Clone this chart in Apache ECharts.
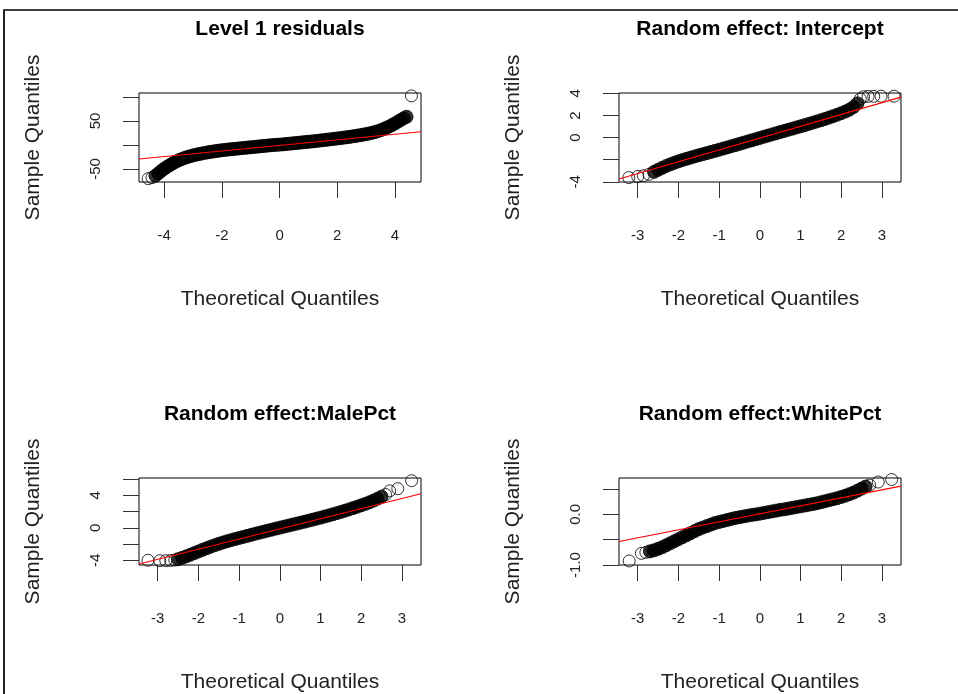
<!DOCTYPE html>
<html><head><meta charset="utf-8">
<script src="https://cdn.jsdelivr.net/npm/echarts@6/dist/echarts.min.js"></script>
<style>html,body{margin:0;padding:0;background:#fff}#c{width:958px;height:694px}</style>
</head><body><div id="c"></div>
<script>
// ---------- titles & axis ticks ----------
const titles = ['Level 1 residuals', 'Random effect: Intercept', 'Random effect:MalePct', 'Random effect:WhitePct'];
const xTitle = 'Theoretical Quantiles';
const yTitle = 'Sample Quantiles';
const xTicks1 = [-4, -2, 0, 2, 4];
const xTicks = [-3, -2, -1, 0, 1, 2, 3];
const yTicks1 = [-50, 0, 50, 100];   const yLabels1 = [-50, 50];
const yTicks2 = [-4, -2, 0, 2, 4];   const yLabels2 = [-4, 0, 2, 4];
const yTicks3 = [-4, -2, 0, 2, 4, 6]; const yLabels3 = [-4, 0, 4];
const yTicks4 = [-1.0, -0.5, 0.0, 0.5]; const yLabels4 = [-1.0, 0.0];
const xRange1 = [-4.87, 4.9];  const yRange1 = [-77, 108];
const xRange2 = [-3.46, 3.47]; const yRange2 = [-4.02, 4.04];
const xRange3 = [-3.46, 3.47]; const yRange3 = [-4.56, 6.13];
const xRange4 = [-3.46, 3.47]; const yRange4 = [-1.0, 0.72];

// ---------- QQ points: [theoretical, sample] ----------
const p1Body = [[-4.3,-64],[-4.2,-59],[-4.1,-54],[-4.0,-49.5],[-3.9,-45.5],[-3.8,-41.8],[-3.7,-38.2],[-3.6,-35],[-3.5,-32],[-3.4,-29.5],
 [-3.3,-27.2],[-3.2,-25.2],[-3.1,-23.4],[-3.0,-21.8],[-2.9,-20.3],[-2.8,-19],[-2.7,-17.8],[-2.6,-16.6],[-2.5,-15.5],[-2.4,-14.5],
 [-2.3,-13.6],[-2.2,-12.7],[-2.1,-11.8],[-2.0,-11.0],[-1.9,-10.3],[-1.8,-9.7],[-1.7,-9.0],[-1.6,-8.4],[-1.5,-7.8],[-1.4,-7.2],
 [-1.3,-6.6],[-1.2,-6.0],[-1.1,-5.4],[-1.0,-4.8],[-0.9,-4.2],[-0.8,-3.6],[-0.7,-3.0],[-0.6,-2.4],[-0.5,-1.8],[-0.4,-1.2],
 [-0.3,-0.6],[-0.2,-0.1],[-0.1,0.3],[0.0,0.7],[0.1,1.2],[0.2,1.8],[0.3,2.4],[0.4,3.0],[0.5,3.6],[0.6,4.2],
 [0.7,4.8],[0.8,5.4],[0.9,6.0],[1.0,6.6],[1.1,7.2],[1.2,7.8],[1.3,8.5],[1.4,9.2],[1.5,9.9],[1.6,10.6],
 [1.7,11.3],[1.8,12.0],[1.9,12.8],[2.0,13.5],[2.1,14.2],[2.2,15.0],[2.3,15.8],[2.4,16.6],[2.5,17.5],[2.6,18.4],
 [2.7,19.4],[2.8,20.4],[2.9,21.5],[3.0,22.6],[3.1,23.8],[3.2,25.2],[3.3,26.8],[3.4,28.6],[3.5,30.6],[3.6,33],
 [3.7,35.6],[3.8,38.4],[3.9,41.5],[4.0,44.8],[4.1,48.4],[4.2,52],[4.3,55.5],[4.4,58.5]];
const p1Tail = [[-4.55,-70],[-4.42,-68],[4.57,102]];

const p2Body = [[-2.6,-3.1],[-2.5,-2.92],[-2.4,-2.74],[-2.3,-2.57],[-2.2,-2.42],[-2.1,-2.28],[-2.0,-2.15],[-1.9,-2.03],[-1.8,-1.92],[-1.7,-1.81],
 [-1.6,-1.7],[-1.5,-1.6],[-1.4,-1.5],[-1.3,-1.4],[-1.2,-1.3],[-1.1,-1.2],[-1.0,-1.1],[-0.9,-0.99],[-0.8,-0.89],[-0.7,-0.78],
 [-0.6,-0.68],[-0.5,-0.57],[-0.4,-0.46],[-0.3,-0.35],[-0.2,-0.25],[-0.1,-0.14],[0.0,-0.03],[0.1,0.08],[0.2,0.18],[0.3,0.29],
 [0.4,0.39],[0.5,0.5],[0.6,0.6],[0.7,0.71],[0.8,0.81],[0.9,0.92],[1.0,1.02],[1.1,1.13],[1.2,1.24],[1.3,1.35],
 [1.4,1.46],[1.5,1.57],[1.6,1.69],[1.7,1.81],[1.8,1.94],[1.9,2.07],[2.0,2.21],[2.1,2.36],[2.2,2.53],[2.3,2.76],[2.4,3.1]];
const p2Tail = [[-3.22,-3.62],[-3.0,-3.52],[-2.86,-3.45],[-2.72,-3.32],[2.47,3.5],[2.55,3.7],[2.66,3.74],[2.8,3.74],[2.98,3.75],[3.3,3.75]];

const p3Body = [[-2.5,-3.85],[-2.4,-3.68],[-2.3,-3.5],[-2.2,-3.3],[-2.1,-3.1],[-2.0,-2.9],[-1.9,-2.7],[-1.8,-2.5],[-1.7,-2.31],[-1.6,-2.13],
 [-1.5,-1.96],[-1.4,-1.8],[-1.3,-1.65],[-1.2,-1.51],[-1.1,-1.37],[-1.0,-1.24],[-0.9,-1.11],[-0.8,-0.98],[-0.7,-0.85],[-0.6,-0.72],
 [-0.5,-0.59],[-0.4,-0.47],[-0.3,-0.34],[-0.2,-0.22],[-0.1,-0.09],[0.0,0.03],[0.1,0.15],[0.2,0.27],[0.3,0.39],[0.4,0.51],
 [0.5,0.63],[0.6,0.75],[0.7,0.88],[0.8,1.0],[0.9,1.13],[1.0,1.26],[1.1,1.39],[1.2,1.53],[1.3,1.67],[1.4,1.81],
 [1.5,1.96],[1.6,2.11],[1.7,2.27],[1.8,2.43],[1.9,2.6],[2.0,2.77],[2.1,2.95],[2.2,3.14],[2.3,3.35],[2.4,3.58],[2.5,3.84]];
const p3Tail = [[-3.24,-3.98],[-2.95,-4.03],[-2.8,-4.03],[-2.68,-4.0],[-2.58,-3.95],[2.6,4.1],[2.7,4.55],[2.9,4.82],[3.24,5.8]];

const p4Body = [[-2.7,-0.73],[-2.6,-0.71],[-2.5,-0.68],[-2.4,-0.65],[-2.3,-0.61],[-2.2,-0.57],[-2.1,-0.53],[-2.0,-0.49],[-1.9,-0.45],[-1.8,-0.41],
 [-1.7,-0.37],[-1.6,-0.33],[-1.5,-0.29],[-1.4,-0.26],[-1.3,-0.23],[-1.2,-0.2],[-1.1,-0.17],[-1.0,-0.15],[-0.9,-0.13],[-0.8,-0.11],
 [-0.7,-0.09],[-0.6,-0.07],[-0.5,-0.055],[-0.4,-0.04],[-0.3,-0.025],[-0.2,-0.01],[-0.1,0.0],[0.0,0.015],[0.1,0.03],[0.2,0.045],
 [0.3,0.06],[0.4,0.075],[0.5,0.09],[0.6,0.1],[0.7,0.115],[0.8,0.13],[0.9,0.145],[1.0,0.16],[1.1,0.175],[1.2,0.19],
 [1.3,0.205],[1.4,0.22],[1.5,0.24],[1.6,0.26],[1.7,0.28],[1.8,0.3],[1.9,0.32],[2.0,0.345],[2.1,0.37],[2.2,0.4],
 [2.3,0.43],[2.4,0.47],[2.5,0.51],[2.6,0.55]];
const p4Tail = [[-3.21,-0.92],[-2.91,-0.77],[-2.8,-0.75],[2.7,0.58],[2.91,0.64],[3.24,0.69]];

// ---------- reference (qqline) endpoints ----------
const p1Line = [[-4.87,-29.2],[4.9,27.4]];
const p2Line = [[-3.46,-3.75],[3.47,3.66]];
const p3Line = [[-3.46,-4.44],[3.47,4.2]];
const p4Line = [[-3.46,-0.535],[3.47,0.56]];

// ---------- build ----------
const FONT = 'Liberation Sans, Arial, sans-serif';
const panels = [
  {title: titles[0], xr: xRange1, yr: yRange1, xt: xTicks1, yt: yTicks1, yl: yLabels1, body: p1Body, tail: p1Tail, line: p1Line, fmt: v => String(v)},
  {title: titles[1], xr: xRange2, yr: yRange2, xt: xTicks,  yt: yTicks2, yl: yLabels2, body: p2Body, tail: p2Tail, line: p2Line, fmt: v => String(v)},
  {title: titles[2], xr: xRange3, yr: yRange3, xt: xTicks,  yt: yTicks3, yl: yLabels3, body: p3Body, tail: p3Tail, line: p3Line, fmt: v => String(v)},
  {title: titles[3], xr: xRange4, yr: yRange4, xt: xTicks,  yt: yTicks4, yl: yLabels4, body: p4Body, tail: p4Tail, line: p4Line, fmt: v => v.toFixed(1)}
];
const boxes = [
  {left: 139, top: 93, width: 282, height: 89},
  {left: 619, top: 93, width: 282, height: 89},
  {left: 139, top: 478, width: 282, height: 89},
  {left: 619, top: 478, width: 282, height: 89}
];

const grid = [], xAxis = [], yAxis = [], series = [], graphic = [];
graphic.push({type: 'rect', shape: {x: 4, y: 10, width: 1200, height: 1200},
  style: {fill: 'none', stroke: '#000', lineWidth: 1.7}, silent: true});

panels.forEach((p, i) => {
  const b = boxes[i];
  grid.push(Object.assign({show: true, borderColor: '#000', borderWidth: 1, backgroundColor: 'transparent'}, b));
  graphic.push({type: 'text', x: b.left + b.width / 2, y: b.top - 64,
    style: {text: p.title, font: 'bold 21px ' + FONT, fill: '#000', align: 'center', verticalAlign: 'middle'}});
  xAxis.push({
    type: 'value', gridIndex: i, min: p.xr[0], max: p.xr[1], position: 'bottom',
    axisLine: {show: false, onZero: false}, splitLine: {show: false},
    axisTick: {show: true, length: 16, customValues: p.xt, lineStyle: {color: '#333', width: 1}},
    axisLabel: {customValues: p.xt, margin: 46, fontSize: 15, color: '#222', fontFamily: FONT},
    name: xTitle, nameLocation: 'middle', nameGap: 107,
    nameTextStyle: {fontSize: 21, color: '#222', fontFamily: FONT}
  });
  yAxis.push({
    type: 'value', gridIndex: i, min: p.yr[0], max: p.yr[1], position: 'left',
    axisLine: {show: false, onZero: false}, splitLine: {show: false},
    axisTick: {show: true, length: 16, customValues: p.yt, lineStyle: {color: '#333', width: 1}},
    axisLabel: {customValues: p.yl, margin: 36, rotate: 90, fontSize: 15, color: '#222', fontFamily: FONT, formatter: p.fmt},
    name: yTitle, nameLocation: 'middle', nameGap: 95,
    nameTextStyle: {fontSize: 21, color: '#222', fontFamily: FONT}
  });
  series.push({
    type: 'scatter', xAxisIndex: i, yAxisIndex: i, data: p.body, symbol: 'circle', symbolSize: 13,
    itemStyle: {color: '#000', borderColor: '#000', borderWidth: 1}, silent: true, z: 2
  });
  series.push({
    type: 'scatter', xAxisIndex: i, yAxisIndex: i, data: p.tail, symbol: 'circle', symbolSize: 12,
    itemStyle: {color: 'rgba(0,0,0,0)', borderColor: '#000', borderWidth: 1}, silent: true, z: 2
  });
  series.push({
    type: 'line', xAxisIndex: i, yAxisIndex: i, data: p.line, showSymbol: false, symbol: 'none',
    lineStyle: {color: '#ff0000', width: 1.2}, silent: true, z: 3
  });
});

const chart = echarts.init(document.getElementById('c'), null, {renderer: 'canvas'});
chart.setOption({animation: false, backgroundColor: '#fff', grid, xAxis, yAxis, series, graphic});
</script></body></html>
